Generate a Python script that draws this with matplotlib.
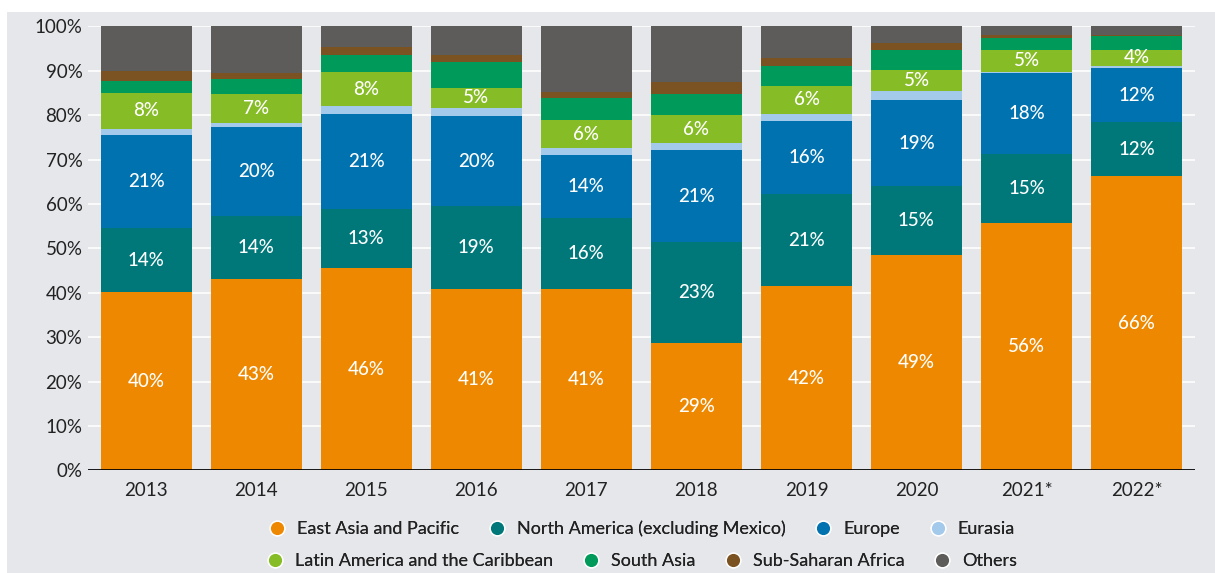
import numpy as np
import matplotlib.pyplot as plt
from matplotlib.patches import Rectangle
from matplotlib.lines import Line2D

plt.rcParams['font.family'] = ['Lato', 'DejaVu Sans']

years = ['2013', '2014', '2015', '2016', '2017', '2018', '2019', '2020', '2021*', '2022*']

# shares in percent
east_asia = [40.2, 43.1, 45.6, 40.9, 40.9, 28.7, 41.5, 48.6, 55.8, 66.3]
north_america = [14.4, 14.2, 13.4, 18.6, 16.0, 22.8, 20.8, 15.4, 15.4, 12.1]
europe = [21.0, 20.0, 21.3, 20.3, 14.1, 20.6, 16.4, 19.4, 18.4, 12.2]
eurasia = [1.4, 0.9, 1.8, 1.8, 1.6, 1.6, 1.7, 2.0, 0.1, 0.4]
latin_america = [8.1, 6.7, 7.6, 4.6, 6.3, 6.3, 6.1, 4.9, 5.1, 3.8]
south_asia = [2.7, 3.3, 3.9, 5.9, 5.1, 4.7, 4.7, 4.3, 2.7, 3.0]
ss_africa = [2.2, 1.4, 1.8, 1.5, 1.2, 2.9, 1.8, 1.6, 0.6, 0.2]
others = [10.0, 10.4, 4.6, 6.4, 14.8, 12.4, 7.0, 3.8, 1.9, 2.0]

series = [
    ('East Asia and Pacific', east_asia, '#EE8800', True),
    ('North America (excluding Mexico)', north_america, '#00787A', True),
    ('Europe', europe, '#0072AF', True),
    ('Eurasia', eurasia, '#A3C9EB', False),
    ('Latin America and the Caribbean', latin_america, '#86BC25', True),
    ('South Asia', south_asia, '#009A5B', False),
    ('Sub-Saharan Africa', ss_africa, '#7B5322', False),
    ('Others', others, '#5E5C5A', False),
]

bg = '#E6E7EB'
fig = plt.figure(figsize=(12.15, 5.73), dpi=100)
fig.patch.set_facecolor('white')
fig.patches.append(Rectangle((0.0058, 0), 1, 0.979, transform=fig.transFigure,
                             facecolor=bg, edgecolor='none', zorder=-10))

ax = fig.add_axes([0.0724, 0.1789, 0.911, 0.7749])
ax.set_facecolor(bg)

x = np.arange(len(years))
bottom = np.zeros(len(years))
for name, vals, col, lab in series:
    vals = np.array(vals)
    ax.bar(x, vals, width=0.83, bottom=bottom, color=col, zorder=3)
    if lab:
        for xi, b, v in zip(x, bottom, vals):
            ax.text(xi, b + v / 2, f'{v:.0f}%', ha='center', va='center',
                    color='white', fontsize=13.5, fontweight='medium', zorder=4)
    bottom += vals

ax.set_ylim(0, 100)
ax.set_xlim(-0.53, 9.53)
ax.set_yticks(np.arange(0, 101, 10))
ax.set_yticklabels([f'{t}%' for t in range(0, 101, 10)])
ax.set_xticks(x)
ax.set_xticklabels(years)
ax.tick_params(axis='both', length=0, labelsize=13.5, colors='#222222')
ax.tick_params(axis='y', pad=4)
ax.tick_params(axis='x', pad=8)
ax.grid(axis='y', color='white', linewidth=1.2, zorder=0)
for s in ax.spines.values():
    s.set_visible(False)
ax.axhline(0, color='black', linewidth=2, zorder=5)

handles = [Line2D([], [], marker='o', linestyle='none', markersize=10.5,
                  markerfacecolor=col, markeredgecolor='white', markeredgewidth=1)
           for _, _, col, _ in series]
names = [n for n, _, _, _ in series]
for row, yy in [(0, 0.077), (1, 0.021)]:
    leg = fig.legend(handles[row * 4:row * 4 + 4], names[row * 4:row * 4 + 4],
                     loc='center', bbox_to_anchor=(0.528, yy), ncol=4, frameon=False,
                     fontsize=13, handlelength=1, handletextpad=0.6,
                     columnspacing=1.6, labelcolor='#222222')
    fig.add_artist(leg)

fig.savefig('out.png', dpi=100, facecolor='white')
